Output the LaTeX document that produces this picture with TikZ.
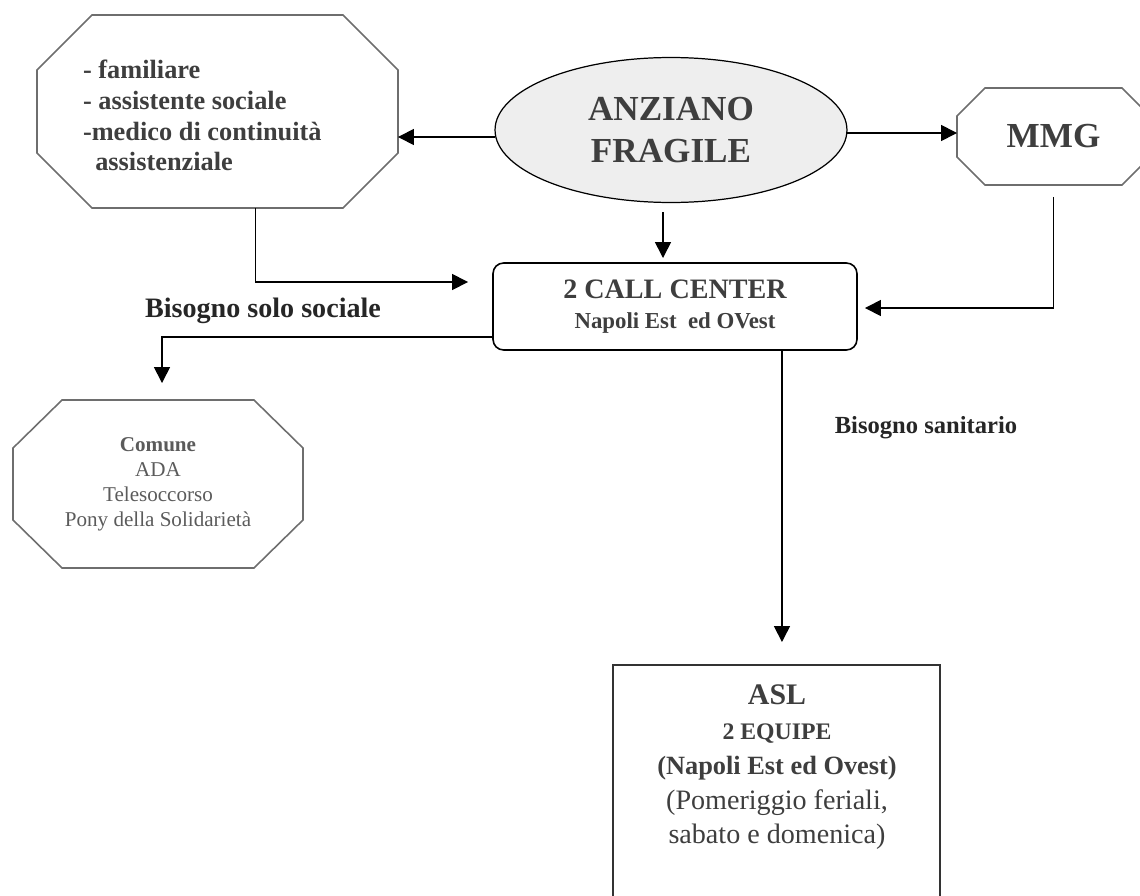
\documentclass[tikz,border=0pt]{standalone}
\usepackage{fontspec}
\setmainfont{Liberation Serif}
\usetikzlibrary{arrows.meta,shapes.geometric}
\definecolor{txtgray}{RGB}{62,62,62}
\definecolor{linegray}{RGB}{110,110,110}
\definecolor{ellfill}{RGB}{238,238,238}
% octagon drawn on the corners of a plain node: name, x cut, y cut
\newcommand{\drawoct}[3]{%
  \draw[octline] ([xshift=#2]#1.north west) -- ([xshift=-#2]#1.north east)
    -- ([yshift=-#3]#1.north east) -- ([yshift=#3]#1.south east)
    -- ([xshift=-#2]#1.south east) -- ([xshift=#2]#1.south west)
    -- ([yshift=#3]#1.south west) -- ([yshift=-#3]#1.north west) -- cycle;}

\begin{document}
\begin{tikzpicture}[x=0.02cm,y=-0.02cm,
    arr/.style={-{Triangle[length=9pt,width=9pt]}, line width=0.9pt},
    octline/.style={linegray, line width=0.9pt},
    plain/.style={inner sep=0pt, outer sep=0pt, text=txtgray, align=center}]
  \useasboundingbox (0,0) rectangle (1140,896);

  % boxes
  \node[plain, minimum width=7.22cm, minimum height=3.86cm] (fam) at (217.5,111.5) {};
  \drawoct{fam}{1.1cm}{1.1cm}
  \node[plain, align=left, anchor=north west, font=\bfseries\fontsize{15}{17.5}\selectfont] (famtxt) at (83,60)
    {- familiare\\- assistente sociale\\-medico di continuit\`a\\\hspace*{7pt}assistenziale};

  \node[plain, ellipse, draw=black, line width=0.7pt, fill=ellfill, minimum width=7.04cm, minimum height=2.9cm,
    font=\bfseries\fontsize{20}{24}\selectfont] (anz) at (671,130) {ANZIANO\\FRAGILE};

  \node[plain, minimum width=3.86cm, minimum height=1.94cm, font=\bfseries\fontsize{20}{24}\selectfont] (mmg) at (1053.5,136.5) {MMG};
  \drawoct{mmg}{0.56cm}{0.56cm}

  \node[plain, draw=black, line width=0.9pt, rounded corners=6pt, minimum width=7.28cm, minimum height=1.74cm,
    font=\bfseries\fontsize{16}{17}\selectfont] (cc) at (675,306.5)
    {2 CALL CENTER\\\fontsize{13}{17}\selectfont Napoli Est\ \ ed OVest};

  \node[plain, minimum width=5.8cm, minimum height=3.36cm, text=txtgray!85, font=\fontsize{12}{14.2}\selectfont] (com) at (158,484)
    {\bfseries Comune\\ADA\\Telesoccorso\\Pony della Solidariet\`a};
  \drawoct{com}{0.98cm}{0.96cm}

  \node[plain, draw=black!80, line width=1.2pt, minimum width=6.54cm, minimum height=4.8cm] (asl) at (776.5,785) {};
  \node[plain, anchor=north, font=\bfseries\fontsize{17}{19.8}\selectfont] (asltxt) at (777,685)
    {ASL\\
     \fontsize{13.5}{19.8}\selectfont 2 EQUIPE\\
     \fontsize{15}{19.8}\selectfont (Napoli Est ed Ovest)\\
     \mdseries\fontsize{16}{19.8}\selectfont (Pomeriggio feriali,\\
     \mdseries\fontsize{16}{19.8}\selectfont sabato e domenica)};

  % labels
  \node[plain, text=black!85, font=\bfseries\fontsize{16}{18}\selectfont] (lsoc) at (263,311) {Bisogno solo sociale};
  \node[plain, text=black!85, font=\bfseries\fontsize{14}{16}\selectfont] (lsan) at (926,428) {Bisogno sanitario};

  % connectors
  \draw[arr] ([yshift=-0.14cm]anz.west) -- ([yshift=-0.14cm]anz.west -| fam.east);
  \draw[arr] ([yshift=-0.06cm]anz.east) -- ([yshift=-0.06cm]anz.east -| mmg.west);
  \draw[arr, shorten <=0.2cm, shorten >=0.1cm] ([xshift=-0.16cm]anz.south) -- ([xshift=-0.16cm]anz.south |- cc.north);
  \draw[arr] ([xshift=0.76cm]fam.south) |- ([xshift=-0.5cm,yshift=0.49cm]cc.west);
  \draw[arr, shorten <=0.24cm] (mmg.south) |- ([xshift=0.16cm,yshift=-0.03cm]cc.east);
  \draw[arr, shorten >=0.34cm] ([yshift=-0.61cm]cc.west) -| ([xshift=0.08cm]com.north);
  \draw[arr, shorten >=0.46cm] ([xshift=2.14cm]cc.south) -- ([xshift=2.14cm]cc.south |- asl.north);
\end{tikzpicture}
\end{document}
